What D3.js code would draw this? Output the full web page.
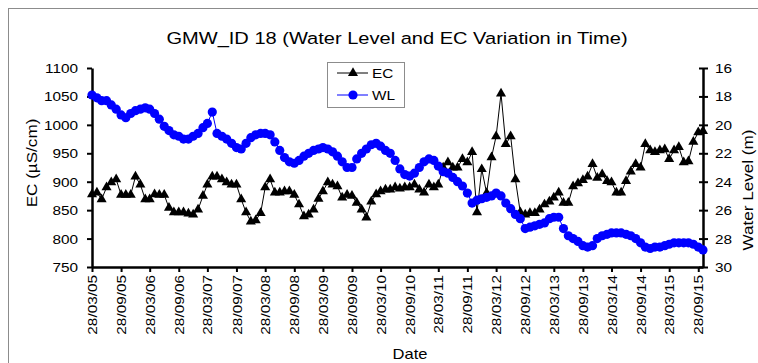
<!DOCTYPE html>
<html>
<head>
<meta charset="utf-8">
<script src="https://cdn.jsdelivr.net/npm/d3@7"></script>
<style>
  body { margin: 0; background: #fff; }
  text { font-family: "Liberation Sans", Arial, sans-serif; fill: #000; }
</style>
</head>
<body>
<svg id="chart" width="758" height="363"></svg>
<script>
const title = 'GMW_ID 18 (Water Level and EC Variation in Time)'
const firstReading = '2005-03-28'

// monthly EC readings (µS/cm), one per month from firstReading
const ecValues = [
  878, 881, 869, 890, 899, 904, 877, 877, 877, 909,
  895, 869, 869, 878, 877, 877, 854, 846, 846, 846,
  844, 842, 851, 875, 895, 909, 909, 904, 899, 895,
  895, 869, 846, 830, 832, 845, 890, 904, 881, 881,
  883, 883, 877, 860, 839, 842, 851, 870, 883, 899,
  895, 892, 872, 877, 875, 863, 851, 837, 865, 878,
  883, 886, 886, 890, 888, 890, 890, 895, 886, 881,
  895, 890, 895, 925, 934, 925, 925, 940, 934, 952,
  846, 922, 880, 943, 980, 1055, 966, 980, 904, 846,
  842, 845, 845, 851, 860, 865, 872, 881, 863, 863,
  892, 897, 903, 909, 931, 907, 913, 901, 899, 881,
  881, 901, 918, 931, 925, 966, 955, 952, 955, 957,
  940, 955, 961, 934, 936, 970, 987, 989,
]

// monthly water level (m below ground)
const wlValues = [
  17.9, 18.1, 18.3, 18.3, 18.6, 18.9, 19.3, 19.5, 19.2, 19.0,
  18.9, 18.8, 18.9, 19.2, 19.6, 20.1, 20.4, 20.7, 20.8, 21.0,
  21.0, 20.8, 20.6, 20.2, 19.9, 19.1, 20.6, 20.8, 21.0, 21.3,
  21.6, 21.7, 21.3, 20.9, 20.7, 20.6, 20.6, 20.7, 21.2, 21.8,
  22.3, 22.6, 22.7, 22.5, 22.2, 22.0, 21.8, 21.7, 21.6, 21.7,
  21.9, 22.2, 22.6, 23.0, 23.0, 22.4, 22.0, 21.7, 21.4, 21.3,
  21.5, 21.8, 22.0, 22.5, 23.1, 23.5, 23.6, 23.4, 23.0, 22.6,
  22.4, 22.5, 22.9, 23.3, 23.4, 23.7, 24.0, 24.3, 24.8, 25.5,
  25.3, 25.2, 25.1, 25.0, 24.8, 25.0, 25.5, 25.9, 26.3, 26.6,
  27.3, 27.2, 27.1, 27.0, 26.9, 26.6, 26.5, 26.5, 27.3, 27.8,
  28.0, 28.2, 28.5, 28.6, 28.5, 28.0, 27.8, 27.7, 27.6, 27.6,
  27.6, 27.7, 27.8, 28.0, 28.3, 28.6, 28.7, 28.6, 28.6, 28.5,
  28.4, 28.3, 28.3, 28.3, 28.3, 28.4, 28.6, 28.8,
]

const dateTickLabels = [
  '28/03/05', '28/09/05', '28/03/06', '28/09/06', '28/03/07', '28/09/07',
  '28/03/08', '28/09/08', '28/03/09', '28/09/09', '28/03/10', '28/09/10',
  '28/03/11', '28/09/11', '28/03/12', '28/09/12', '28/03/13', '28/09/13',
  '28/03/14', '28/09/14', '28/03/15', '28/09/15',
]
const ecTicks = [750, 800, 850, 900, 950, 1000, 1050, 1100]
const wlTicks = [16, 18, 20, 22, 24, 26, 28, 30]

const margin = {left: 92, right: 703, top: 68, bottom: 267}
const WIDE = 1.18 // the source font is drawn wider than Arial
const BLUE = '#0000ff'

const parseTick = d3.utcParse('%d/%m/%y')
const start = d3.utcParse('%Y-%m-%d')(firstReading)
const dates = ecValues.map((_, i) => d3.utcMonth.offset(start, i))

const svg = d3.select('#chart')

// outer chart frame (runs off the right/bottom edge)
svg.append('rect')
    .attr('x', 8.5).attr('y', 8.5)
    .attr('width', 800).attr('height', 400)
    .attr('fill', '#fff')
    .attr('stroke', '#8c8c8c')

const x = d3.scaleUtc()
    .domain([start, dates[dates.length - 1]])
    .range([margin.left, margin.right])
const yEC = d3.scaleLinear().domain([750, 1100]).range([margin.bottom, margin.top])
const yWL = d3.scaleLinear().domain([16, 30]).range([margin.top, margin.bottom])

const wideText = (sel, tx, ty, rot) =>
  sel.attr('transform', `translate(${tx},${ty})` + (rot ? ` rotate(${rot})` : '') + ` scale(${WIDE},1)`)

function styleAxis(g) {
  g.attr('font-family', null).attr('font-size', 13)
  g.select('.domain').attr('stroke', '#000').attr('stroke-width', 2.5)
  g.selectAll('.tick line').attr('stroke', '#000').attr('stroke-width', 2)
}

// left EC axis
const gLeft = svg.append('g')
    .attr('transform', `translate(${margin.left},0)`)
    .call(d3.axisLeft(yEC).tickValues(ecTicks).tickFormat(d3.format('d'))
        .tickSize(5).tickSizeOuter(0))
styleAxis(gLeft)
gLeft.selectAll('.tick text')
    .attr('x', 0).attr('dy', '0.35em').attr('text-anchor', 'end')
    .each(function() { wideText(d3.select(this), -14, 0) })

// right WL axis
const gRight = svg.append('g')
    .attr('transform', `translate(${margin.right},0)`)
    .call(d3.axisRight(yWL).tickValues(wlTicks).tickSize(5).tickSizeOuter(0))
styleAxis(gRight)
gRight.selectAll('.tick line').attr('x1', -4)
gRight.selectAll('.tick text')
    .attr('x', 0).attr('dy', '0.35em').attr('text-anchor', 'start')
    .each(function() { wideText(d3.select(this), 12, 0) })

// bottom date axis
const gBottom = svg.append('g')
    .attr('transform', `translate(0,${margin.bottom})`)
    .call(d3.axisBottom(x)
        .tickValues(dateTickLabels.map(parseTick))
        .tickFormat(d3.utcFormat('%d/%m/%y'))
        .tickSize(5).tickSizeOuter(0))
styleAxis(gBottom)
gBottom.selectAll('.tick text')
    .attr('x', 0).attr('y', 0).attr('dy', '0.35em').attr('text-anchor', 'end')
    .each(function() { wideText(d3.select(this), 0, 8, -90) })

// EC series
const ecData = dates.map((d, i) => ({date: d, v: ecValues[i]}))
svg.append('path')
    .datum(ecData)
    .attr('fill', 'none').attr('stroke', '#000').attr('stroke-width', 1)
    .attr('d', d3.line().x((d) => x(d.date)).y((d) => yEC(d.v)))
const tri = d3.symbol().type(d3.symbolTriangle).size(44)
svg.append('g').selectAll('path')
    .data(ecData)
    .join('path')
    .attr('d', tri)
    .attr('transform', (d) => `translate(${x(d.date)},${yEC(d.v)})`)
    .attr('fill', '#000')

// WL series
const wlData = dates.map((d, i) => ({date: d, v: wlValues[i]}))
svg.append('path')
    .datum(wlData)
    .attr('fill', 'none').attr('stroke', BLUE).attr('stroke-width', 1)
    .attr('d', d3.line().x((d) => x(d.date)).y((d) => yWL(d.v)))
svg.append('g').selectAll('circle')
    .data(wlData)
    .join('circle')
    .attr('cx', (d) => x(d.date))
    .attr('cy', (d) => yWL(d.v))
    .attr('r', 4.6)
    .attr('fill', BLUE)

// legend
const legend = svg.append('g')
legend.append('rect')
    .attr('x', 327.5).attr('y', 62.5).attr('width', 77).attr('height', 45)
    .attr('fill', '#fff').attr('stroke', '#8c8c8c')
const legendItems = [
  {name: 'EC', y: 73, color: '#000', marker: 'tri'},
  {name: 'WL', y: 95, color: BLUE, marker: 'dot'},
]
legendItems.forEach((it) => {
  legend.append('line')
      .attr('x1', 337).attr('x2', 368).attr('y1', it.y).attr('y2', it.y)
      .attr('stroke', it.color)
  if (it.marker === 'tri') {
    legend.append('path').attr('d', tri)
        .attr('transform', `translate(353,${it.y})`).attr('fill', it.color)
  } else {
    legend.append('circle').attr('cx', 353).attr('cy', it.y).attr('r', 4.6)
        .attr('fill', it.color)
  }
  legend.append('text').text(it.name)
      .attr('font-size', 13).attr('dy', '0.35em')
      .call(wideText, 372, it.y)
})

// titles
svg.append('text').text(title)
    .attr('font-size', 17).attr('text-anchor', 'middle')
    .call(wideText, 397, 44)
svg.append('text').text('EC (µS/cm)')
    .attr('font-size', 14.5).attr('text-anchor', 'middle')
    .call(wideText, 37, 163, -90)
svg.append('text').text('Water Level (m)')
    .attr('font-size', 14.5).attr('text-anchor', 'middle')
    .call(wideText, 753, 190, -90)
svg.append('text').text('Date')
    .attr('font-size', 14).attr('text-anchor', 'middle')
    .call(wideText, 410, 359)
</script>
</body>
</html>
